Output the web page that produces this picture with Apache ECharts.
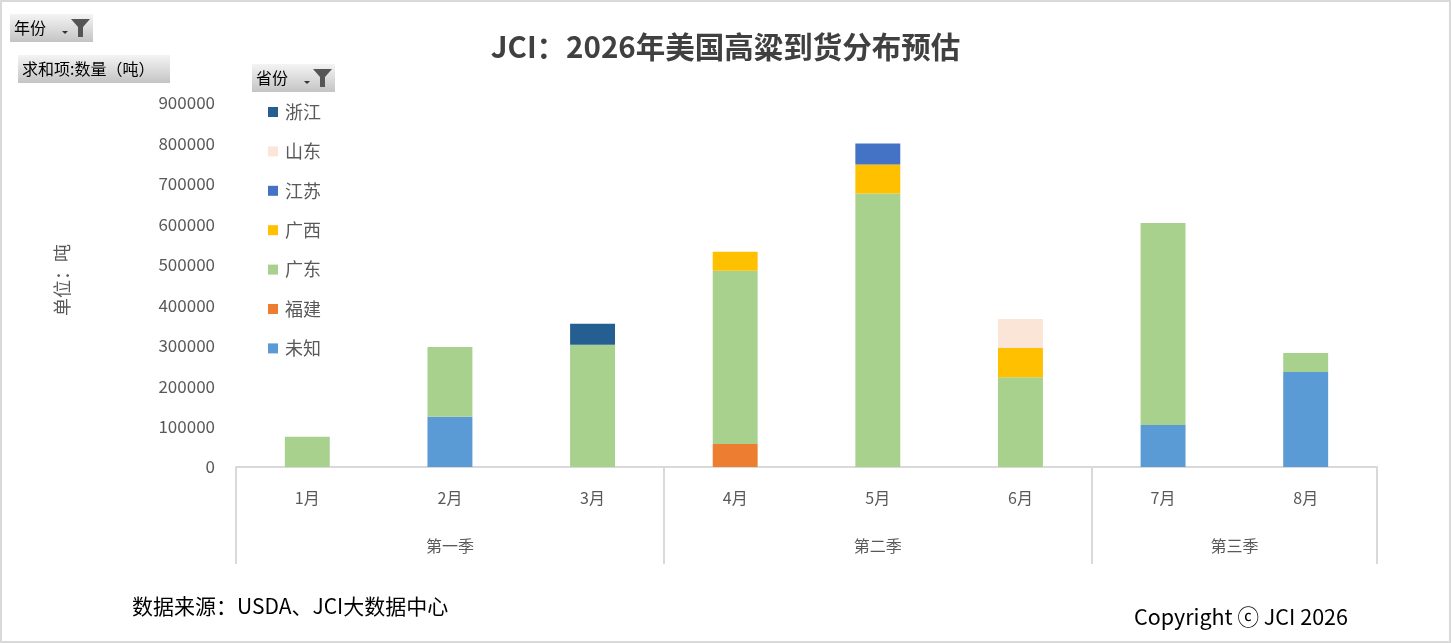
<!DOCTYPE html>
<html>
<head>
<meta charset="utf-8">
<script src="https://cdn.jsdelivr.net/npm/echarts@6/dist/echarts.min.js"></script>
<style>
html,body{margin:0;padding:0;background:#fff;}
#main{width:1451px;height:643px;}
</style>
</head>
<body>
<div id="main"></div>
<script>
// ---- data ----
const months = ['1月','2月','3月','4月','5月','6月','7月','8月'];
const quarters = ['第一季','第二季','第三季'];
const quarterSpans = [3, 3, 2];
const yTicks = { min: 0, max: 900000, interval: 100000 };

const unknown   = [0, 124000, 0, 0, 0, 0, 104000, 235000];   // 未知
const fujian    = [0, 0, 0, 57000, 0, 0, 0, 0];              // 福建
const guangdong = [75000, 173000, 302000, 428000, 676000, 222000, 499000, 47000]; // 广东
const guangxi   = [0, 0, 0, 47000, 72000, 72000, 0, 0];      // 广西
const jiangsu   = [0, 0, 0, 0, 52000, 0, 0, 0];              // 江苏
const shandong  = [0, 0, 0, 0, 0, 72000, 0, 0];              // 山东
const zhejiang  = [0, 0, 52000, 0, 0, 0, 0, 0];              // 浙江

const seriesNames = ['未知','福建','广东','广西','江苏','山东','浙江'];
const seriesData = [unknown, fujian, guangdong, guangxi, jiangsu, shandong, zhejiang];
const seriesColors = ['#5B9BD5','#ED7D31','#A9D18E','#FFC000','#4472C4','#FBE5D6','#255E91'];
const legendOrder = ['浙江','山东','江苏','广西','广东','福建','未知'];

// quarter boundaries & centers (in category units)
const qBounds = [0];
quarterSpans.forEach(s => qBounds.push(qBounds[qBounds.length-1] + s));
const qCenters = quarters.map((q,i) => (qBounds[i] + qBounds[i+1]) / 2);

const FONT = '"Noto Sans CJK SC", "Microsoft YaHei", sans-serif';
const chart = echarts.init(document.getElementById('main'));

function pivotButton(x, y, w, h, label, withFilter) {
  const children = [
    { type: 'rect', shape: { x: 0, y: 0, width: w, height: h },
      style: { fill: new echarts.graphic.LinearGradient(0,0,0,1,[
        {offset:0,color:'#f4f4f4'},{offset:1,color:'#c4c4c4'}]) } },
    { type: 'text', x: 4, y: h/2, style: { text: label, fill: '#000', font: '16px ' + FONT, verticalAlign: 'middle' } }
  ];
  if (withFilter) {
    children.push({ type: 'polygon', shape: { points: [[w-31,h/2+3],[w-25,h/2+3],[w-28,h/2+6]] }, style: { fill: '#333' } });
    children.push({ type: 'polygon', shape: { points: [[w-22,h/2-9],[w-3,h/2-9],[w-10,h/2-1],[w-10,h/2+9],[w-15,h/2+9],[w-15,h/2-1]] }, style: { fill: '#555' } });
  }
  return { type: 'group', x: x, y: y, children: children };
}

const option = {
  animation: false,
  textStyle: { fontFamily: FONT },
  title: {
    text: 'JCI：2026年美国高粱到货分布预估',
    left: 'center', top: 27,
    textStyle: { fontSize: 29.5, fontWeight: 'bold', color: '#404040', fontFamily: FONT }
  },
  legend: {
    orient: 'vertical', left: 263, top: 98, padding: 5,
    data: legendOrder,
    icon: 'rect', itemWidth: 10, itemHeight: 10, itemGap: 21.4,
    textStyle: { fontSize: 18, color: '#595959', lineHeight: 18, padding: [0,0,0,2], fontFamily: FONT }
  },
  grid: { left: 236, right: 74, top: 103, bottom: 176, containLabel: false },
  xAxis: [
    {
      type: 'category', data: months, position: 'bottom',
      axisLine: { show: true, lineStyle: { color: '#d9d9d9', width: 2 } },
      axisTick: { show: false },
      axisLabel: { color: '#595959', fontSize: 16, margin: 23, fontFamily: FONT }
    },
    {
      type: 'value', min: 0, max: months.length, position: 'bottom',
      axisLine: { show: false },
      splitLine: { show: false },
      axisTick: { show: true, customValues: qBounds, length: 97, inside: false,
        lineStyle: { color: '#d9d9d9', width: 2 } },
      axisLabel: { show: true, customValues: qCenters, margin: 71,
        color: '#595959', fontSize: 16, fontFamily: FONT,
        formatter: v => { const i = qCenters.indexOf(v); return i >= 0 ? quarters[i] : ''; } }
    }
  ],
  yAxis: {
    type: 'value', min: yTicks.min, max: yTicks.max, interval: yTicks.interval,
    name: '单位：吨', nameLocation: 'middle', nameRotate: 90, nameGap: 165,
    nameTextStyle: { color: '#595959', fontSize: 18, fontFamily: FONT, padding: [0,0,0,10] },
    axisLine: { show: false }, axisTick: { show: false }, splitLine: { show: false },
    axisLabel: { color: '#595959', fontSize: 17, margin: 21, fontFamily: FONT, formatter: v => String(v) }
  },
  series: seriesNames.map((n, i) => ({
    name: n, type: 'bar', stack: 'total', xAxisIndex: 0,
    barWidth: '31.5%',
    data: seriesData[i].map(v => v === 0 ? null : v),
    itemStyle: { color: seriesColors[i] }
  })),
  graphic: [
    { type: 'rect', shape: { x: 1, y: 1, width: 1449, height: 641 }, style: { fill: 'none', stroke: '#d9d9d9', lineWidth: 2 }, silent: true },
    pivotButton(10, 14, 83, 28, '年份', true),
    pivotButton(18, 55, 152, 28, '求和项:数量（吨）', false),
    pivotButton(252, 64, 83, 28, '省份', true),
    { type: 'text', x: 132, y: 606, style: { text: '数据来源：USDA、JCI大数据中心', fill: '#000', font: '21px ' + FONT, verticalAlign: 'middle' } },
    { type: 'text', x: 1134, y: 617, style: { text: 'Copyright ⓒ JCI 2026', fill: '#000', font: '21.5px ' + FONT, verticalAlign: 'middle' } }
  ]
};
chart.setOption(option);
</script>
</body>
</html>
